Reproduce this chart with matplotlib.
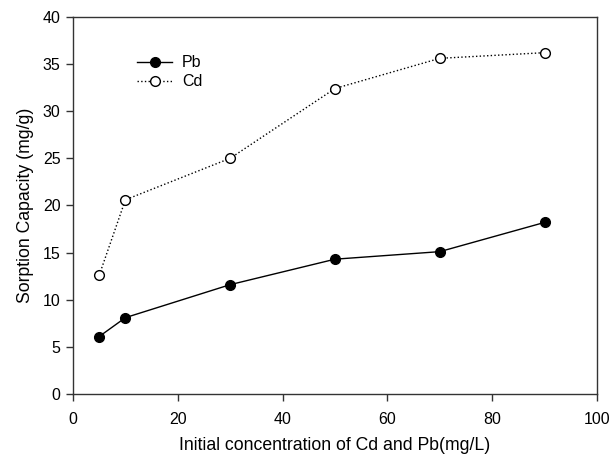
import matplotlib
matplotlib.use('Agg')
import matplotlib.pyplot as plt

plt.rcParams['font.family'] = ['Liberation Sans', 'DejaVu Sans']

# données
conc = [5, 10, 30, 50, 70, 90]
pb = [6.1, 8.1, 11.6, 14.3, 15.1, 18.2]
cd = [12.6, 20.6, 25.0, 32.4, 35.6, 36.2]

fig = plt.figure(figsize=(6.1, 4.55), dpi=100)
ax = fig.add_axes([0.1197, 0.134, 0.859, 0.829])

ax.plot(conc, pb, '-', color='black', lw=1, marker='o', ms=7,
        mfc='black', mec='black', label='Pb')
ax.plot(conc, cd, ':', color='black', lw=1, marker='o', ms=7,
        mfc='white', mec='black', label='Cd')

ax.set_xlim(0, 100)
ax.set_ylim(0, 40)
ax.set_xticks(range(0, 101, 20))
ax.set_yticks(range(0, 41, 5))
ax.tick_params(direction='out', length=5, width=1, labelsize=11.5,
               color='#333333')
ax.tick_params(axis='x', pad=8)
ax.tick_params(axis='y', pad=4)
for s in ax.spines.values():
    s.set_linewidth(1)
    s.set_color('#333333')

ax.set_xlabel('Initial concentration of Cd and Pb(mg/L)', fontsize=12.7, labelpad=7)
ax.set_ylabel('Sorption Capacity (mg/g)', fontsize=12.7, labelpad=6)

ax.legend(loc='upper left', bbox_to_anchor=(0.11, 0.915), frameon=False,
          fontsize=11.5, handlelength=2.2, handletextpad=0.6, labelspacing=0.25,
          borderaxespad=0)

fig.savefig('out.png', dpi=100)
